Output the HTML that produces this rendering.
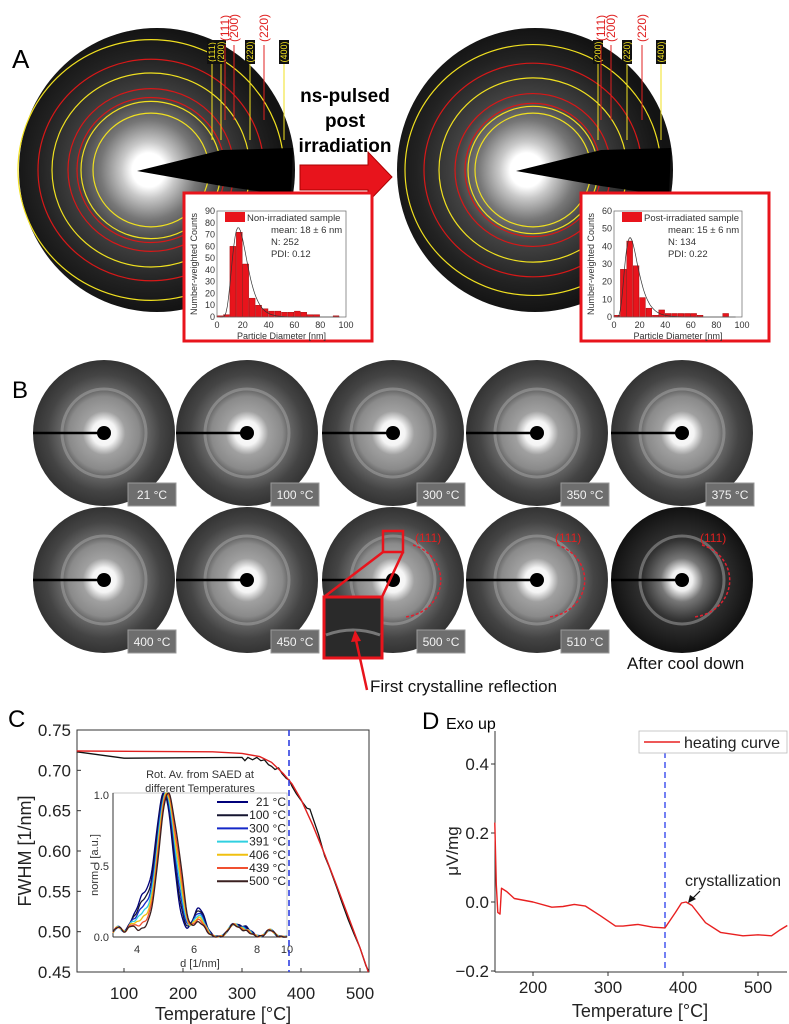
<!DOCTYPE html>
<html><head><meta charset="utf-8"><style>
html,body{margin:0;padding:0;background:#fff;}
svg{display:block;font-family:"Liberation Sans",sans-serif;}
</style></head><body>
<svg id="s" width="789" height="1024" viewBox="0 0 789 1024" xmlns="http://www.w3.org/2000/svg">
<defs>
<radialGradient id="gA" cx="0.47" cy="0.5" r="0.5">
<stop offset="0" stop-color="#fff"/><stop offset="0.12" stop-color="#fff"/><stop offset="0.2" stop-color="#c8c8c8"/><stop offset="0.35" stop-color="#777"/><stop offset="0.5" stop-color="#454545"/><stop offset="0.8" stop-color="#222"/><stop offset="1" stop-color="#131313"/>
</radialGradient>
<radialGradient id="gB" cx="0.5" cy="0.5" r="0.5">
<stop offset="0" stop-color="#fff"/><stop offset="0.17" stop-color="#f4f4f4"/><stop offset="0.3" stop-color="#a0a0a0"/><stop offset="0.5" stop-color="#8a8a8a"/><stop offset="0.58" stop-color="#6a6a6a"/><stop offset="0.8" stop-color="#444"/><stop offset="1" stop-color="#333"/>
</radialGradient>
<radialGradient id="gC" cx="0.5" cy="0.5" r="0.5">
<stop offset="0" stop-color="#fff"/><stop offset="0.15" stop-color="#eee"/><stop offset="0.3" stop-color="#777"/><stop offset="0.55" stop-color="#333"/><stop offset="1" stop-color="#111"/>
</radialGradient>
</defs>
<g id="root"></g>
</svg>
<script>
var R=document.getElementById('root'),o='';
function t(x,y,s,str,a,extra){o+='<text x="'+x+'" y="'+y+'" font-size="'+s+'" '+(a?'text-anchor="'+a+'" ':'')+(extra||'')+'>'+str+'</text>';}
// ===== Panel A =====
t(12,68,26,'A');
function discA(cx,cy,rx,ry,ccx,yr,rr,needleTip){
 o+='<ellipse cx="'+cx+'" cy="'+cy+'" rx="'+rx+'" ry="'+ry+'" fill="url(#gA)"/>';
 yr.forEach(function(r){o+='<ellipse cx="'+ccx+'" cy="170" rx="'+r+'" ry="'+(r*0.98)+'" fill="none" stroke="#f0e020" stroke-width="1.2"/>';});
 rr.forEach(function(r){o+='<ellipse cx="'+ccx+'" cy="170" rx="'+r+'" ry="'+(r*0.98)+'" fill="none" stroke="#d81818" stroke-width="1.2"/>';});
 o+='<path d="M'+needleTip+',171 L'+(needleTip+85)+',150 L'+(cx+rx-2)+',148 L'+(cx+rx-4)+',196 L'+(needleTip+85)+',186 Z" fill="#000"/>';
}
discA(157,170,138,142,151,[58,70,99,133],[74,83,113],137);
discA(535,170,138,142,533,[58,65,94,128],[68,78,109],516);
[[212,'#f0e020','(111)',1],[221,'#f0e020','(200)',1],[250,'#f0e020','(220)',1],[284,'#f0e020','(400)',1],[225,'#e02020','(111)',0],[234,'#e02020','(200)',0],[264,'#e02020','(220)',0],
 [598,'#f0e020','(200)',1],[627,'#f0e020','(220)',1],[661,'#f0e020','(400)',1],[601,'#e02020','(111)',0],[611,'#e02020','(200)',0],[642,'#e02020','(220)',0]].forEach(function(d){
 var x=d[0],y1=d[3]?63:45;
 o+='<line x1="'+x+'" y1="'+(y1)+'" x2="'+x+'" y2="'+(d[3]?140:120)+'" stroke="'+d[1]+'" stroke-width="1"/>';
 if(d[3]){o+='<rect x="'+(x-5)+'" y="40" width="10" height="24" fill="#111"/>';t(0,0,9,d[2],'middle','fill="#f0e020" transform="translate('+(x+3)+',52) rotate(-90)"');}
 else t(0,0,12,d[2],'middle','fill="#e02020" transform="translate('+(x+4)+',28) rotate(-90)"');
});
o+='<path d="M300,165 L368,165 L368,152 L392,177 L368,202 L368,190 L300,190 Z" fill="#e8141c" stroke="#a00" stroke-width="1"/>';
t(345,102,19,'ns-pulsed','middle','font-weight="bold"');t(345,127,19,'post','middle','font-weight="bold"');t(345,152,19,'irradiation','middle','font-weight="bold"');
function hist(bx,px1,px2,ymax,bars,ticks,leg,mean,N,pdi,fit){
 o+='<rect x="'+bx+'" y="193" width="188" height="148" fill="#fff" stroke="#e8141c" stroke-width="3"/>';
 var top=211,bot=317,w=px2-px1;
 function X(v){return px1+v/100*w;} function Y(v){return bot-v/ymax*(bot-top);}
 bars.forEach(function(b){o+='<rect x="'+X(b[0]-2.5)+'" y="'+Y(b[1])+'" width="'+(w/20-0.6)+'" height="'+(bot-Y(b[1]))+'" fill="#e8141c" stroke="#900" stroke-width="0.4"/>';});
 var p='';for(var d=2;d<=95;d+=1){var v=fit(d);p+=(p?'L':'M')+X(d).toFixed(1)+','+Y(v).toFixed(1);}o+='<path d="'+p+'" fill="none" stroke="#333" stroke-width="0.7"/>';
 o+='<rect x="'+px1+'" y="'+top+'" width="'+w+'" height="'+(bot-top)+'" fill="none" stroke="#666" stroke-width="0.7"/>';
 ticks.forEach(function(v){t(px1-2,Y(v)+3,9,v,'end','fill="#333"');});
 [0,20,40,60,80,100].forEach(function(v){t(X(v),328,9,v,'middle','fill="#333"');});
 t(px1+w/2,339,9,'Particle Diameter [nm]','middle','fill="#333"');
 t(0,0,9,'Number-weighted Counts','middle','fill="#333" transform="translate('+(bx+13)+',264) rotate(-90)"');
 o+='<rect x="'+(px1+8)+'" y="212" width="20" height="10" fill="#e8141c"/>';
 t(px1+30,221,9.5,leg,'start','fill="#333"');t(px1+54,233,9.5,mean,'start','fill="#333"');t(px1+54,245,9.5,N,'start','fill="#333"');t(px1+54,257,9.5,pdi,'start','fill="#333"');
}
function ln(mu,s,A){return function(d){return A*Math.exp(-Math.pow(Math.log(d/mu)/s,2)/2);};}
hist(184,217,346,90,[[2.5,1],[7.5,2],[12.5,60],[17.5,72],[22.5,45],[27.5,16],[32.5,10],[37.5,7],[42.5,5],[47.5,5],[52.5,4],[57.5,4],[62.5,5],[67.5,4],[72.5,2],[77.5,2],[92.5,1]],[0,10,20,30,40,50,60,70,80,90],'Non-irradiated sample','mean: 18 ± 6 nm','N: 252','PDI: 0.12',ln(16.5,0.35,76));
hist(581,614,742,60,[[2.5,1],[7.5,27],[12.5,43],[17.5,29],[22.5,11],[27.5,5],[32.5,1],[37.5,4],[42.5,2],[47.5,2],[52.5,2],[57.5,2],[62.5,2],[67.5,1],[87.5,2]],[0,10,20,30,40,50,60],'Post-irradiated sample','mean: 15 ± 6 nm','N: 134','PDI: 0.22',ln(12.5,0.42,45));
// ===== Panel B =====
t(12,398,24,'B');
var cxs=[104,247,393,537,682],labs=[['21 °C','100 °C','300 °C','350 °C','375 °C'],['400 °C','450 °C','500 °C','510 °C','']];
[433,580].forEach(function(cy,ri){cxs.forEach(function(cx,i){
 var g=(ri==1&&i==4)?'gC':'gB';
 o+='<ellipse cx="'+cx+'" cy="'+cy+'" rx="71" ry="73" fill="url(#'+g+')"/>';
 o+='<ellipse cx="'+cx+'" cy="'+cy+'" rx="42" ry="44" fill="none" stroke="#a8a8a8" stroke-opacity="0.5" stroke-width="3"/>';
 o+='<line x1="'+(cx-71)+'" y1="'+cy+'" x2="'+cx+'" y2="'+cy+'" stroke="#000" stroke-width="2.5"/>';
 o+='<circle cx="'+cx+'" cy="'+cy+'" r="7" fill="#000"/>';
 var L=labs[ri][i];if(L){var by=ri?630:483;o+='<rect x="'+(cx+24)+'" y="'+by+'" width="48" height="23" fill="#6e6e6e" stroke="#999" stroke-width="1"/>';t(cx+48,by+16,12,L,'middle','fill="#f2f2f2"');}
 if(ri==1&&i>=2){o+='<path d="M'+(cx+20)+','+(cy-35)+' A40,37 0 0 1 '+(cx+12)+','+(cy+37)+'" fill="none" stroke="#e02030" stroke-width="1.5" stroke-dasharray="3,2"/>';t(cx+22+(i==2?0:-4),cy-38,12,'(111)','start','fill="#e02020"');}
});});
o+='<rect x="383" y="531" width="20" height="21" fill="none" stroke="#e8141c" stroke-width="2.5"/>';
o+='<line x1="383" y1="552" x2="324" y2="597" stroke="#e8141c" stroke-width="2.5"/><line x1="403" y1="552" x2="382" y2="597" stroke="#e8141c" stroke-width="2.5"/>';
o+='<rect x="324" y="597" width="58" height="61" fill="#2a2a2a" stroke="#e8141c" stroke-width="3"/>';
o+='<path d="M326,635 Q353,625 380,635" stroke="#777" stroke-width="3" fill="none"/>';
o+='<line x1="367" y1="690" x2="356" y2="640" stroke="#e8141c" stroke-width="2.5"/><path d="M351,642 L355,630 L361,641Z" fill="#e8141c"/>';
t(370,692,17,'First crystalline reflection','start','fill="#111"');
t(627,669,17,'After cool down','start','fill="#111"');
// ===== Panel C =====
t(8,727,24,'C');
var L1=77,R1=369,T1=730,B1=972;
function cx_(T){return 124+(T-100)*0.59;} function cy_(v){return 730+(0.75-v)*806.7;}
o+='<rect x="'+L1+'" y="'+T1+'" width="'+(R1-L1)+'" height="'+(B1-T1)+'" fill="none" stroke="#333" stroke-width="1"/>';
[0.75,0.70,0.65,0.60,0.55,0.50,0.45].forEach(function(v){var y=cy_(v);t(71,y+6,17,v.toFixed(2),'end','fill="#222"');o+='<line x1="'+L1+'" y1="'+y+'" x2="'+(L1+4)+'" y2="'+y+'" stroke="#333"/>';});
[100,200,300,400,500].forEach(function(T){var x=cx_(T);t(x,999,17,T,'middle','fill="#222"');o+='<line x1="'+x+'" y1="'+B1+'" x2="'+x+'" y2="'+(B1-4)+'" stroke="#333"/>';});
t(223,1020,18,'Temperature [°C]','middle','fill="#222"');
t(0,0,18,'FWHM [1/nm]','middle','fill="#222" transform="translate(31,851) rotate(-90)"');
var bk=[[20,.723],[100,.715],[300,.716],[305,.712],[310,.716],[318,.713],[325,.716],[332,.712],[338,.713],[345,.707],[350,.705],[356,.701],[362,.703],[368,.696],[375,.69],[380,.688],[385,.68],[392,.671],[400,.663],[410,.653],[415,.652],[422,.637],[430,.62],[440,.594],[448,.58],[460,.556],[470,.535],[480,.515],[490,.497],[500,.48],[510,.458],[514,.452]];
var p='';bk.forEach(function(a){p+=(p?'L':'M')+cx_(a[0]).toFixed(1)+','+cy_(a[1]).toFixed(1);});o+='<path d="'+p+'" fill="none" stroke="#111" stroke-width="1.3"/>';
var rd=[[20,.724],[250,.723],[300,.721],[330,.717],[350,.71],[370,.696],[385,.683],[400,.664],[420,.632],[440,.596],[460,.558],[480,.519],[500,.48],[514,.45]];
p='';rd.forEach(function(a){p+=(p?'L':'M')+cx_(a[0]).toFixed(1)+','+cy_(a[1]).toFixed(1);});o+='<path d="'+p+'" fill="none" stroke="#e02020" stroke-width="1.4"/>';
var IL=113,IR=287,IT=793,IB=937;
o+='<rect x="'+IL+'" y="'+IT+'" width="'+(IR-IL)+'" height="'+(IB-IT)+'" fill="#fff" stroke="#bbb" stroke-width="0.8"/>';
o+='<line x1="'+IL+'" y1="'+IT+'" x2="'+IL+'" y2="'+IB+'" stroke="#333"/><line x1="'+IL+'" y1="'+IB+'" x2="'+IR+'" y2="'+IB+'" stroke="#333"/>';
t(200,778,11,'Rot. Av. from SAED at','middle','fill="#333"');t(200,792,11,'different Temperatures','middle','fill="#333"');
t(109,799,11,'1.0','end','fill="#333"');t(109,870,11,'0.5','end','fill="#333"');t(109,941,11,'0.0','end','fill="#333"');
function iy(v){return IB-v*(IB-IT);}
[[137,4],[194,6],[257,8],[287,10]].forEach(function(a){t(a[0],953,11,a[1],'middle','fill="#333"');});
t(200,967,11,'d [1/nm]','middle','fill="#333"');
t(0,0,11,'norm. I [a.u.]','middle','fill="#333" transform="translate(98,865) rotate(-90)"');
var cols=['#00007a','#151530','#1428c8','#30d0e0','#f0c010','#f05030','#3a2020'],lbl=['21 °C','100 °C','300 °C','391 °C','406 °C','439 °C','500 °C'];
function G(x,m,s){return Math.exp(-Math.pow((x-m)/s,2)/2);}
cols.forEach(function(c,k){var f=k/6;var mu=164+4*f,sh=0.2*(1-f)+0.04,sat=0.2-0.1*f;
 var pp='';for(var x=IL;x<=IR;x+=1){var v=G(x,mu,9)+sh*G(x,142,6)+0.07*G(x,131,4)+0.07*G(x,118,4)+sat*G(x,199,6)+0.08*G(x,233,5)+(0.07-0.03*f)*G(x,245,6)+0.05*G(x,270,4)+0.15*f*G(x,181,4)+0.005*Math.sin(x*0.9+k);
  if(v<0)v=0;if(v>1)v=1;pp+=(pp?'L':'M')+x+','+iy(v).toFixed(1);}
 o+='<path d="'+pp+'" fill="none" stroke="'+c+'" stroke-width="1.3"/>';
 var ly=802+k*13.2;o+='<line x1="217" y1="'+ly+'" x2="248" y2="'+ly+'" stroke="'+c+'" stroke-width="2"/>';t(286,ly+4,12,lbl[k],'end','fill="#222"');
});
o+='<line x1="289" y1="730" x2="289" y2="972" stroke="#3040e0" stroke-width="1.6" stroke-dasharray="6,4"/>';
// ===== Panel D =====
t(422,729,24,'D');t(446,729,16,'Exo up');
var L2=495,R2=787,T2=731,B2=972;
function dX(T){return 533+(T-200)*0.75;} function dY(v){return 902-v*345;}
o+='<line x1="'+L2+'" y1="'+T2+'" x2="'+L2+'" y2="'+B2+'" stroke="#333"/><line x1="'+L2+'" y1="'+B2+'" x2="'+R2+'" y2="'+B2+'" stroke="#333"/>';
[[0.4,'0.4'],[0.2,'0.2'],[0,'0.0'],[-0.2,'−0.2']].forEach(function(a){var y=dY(a[0]);t(489,y+6,17,a[1],'end','fill="#222"');o+='<line x1="'+(L2-4)+'" y1="'+y+'" x2="'+L2+'" y2="'+y+'" stroke="#333"/>';});
[200,300,400,500].forEach(function(T){var x=dX(T);t(x,993,17,T,'middle','fill="#222"');o+='<line x1="'+x+'" y1="'+B2+'" x2="'+x+'" y2="'+(B2+4)+'" stroke="#333"/>';});
t(640,1017,18,'Temperature [°C]','middle','fill="#222"');
t(0,0,17,'μV/mg','middle','fill="#222" transform="translate(458,851) rotate(-90)"');
o+='<line x1="665" y1="752" x2="665" y2="972" stroke="#5060f0" stroke-width="1.6" stroke-dasharray="6,4"/>';
var dd=[[149,.23],[151,.05],[153,-.03],[156,-.035],[158,.04],[165,.03],[175,.01],[200,0],[225,-.015],[240,-.013],[255,-.007],[270,-.012],[290,-.04],[310,-.07],[320,-.07],[340,-.065],[360,-.073],[376,-.075],[390,-.03],[398,-.003],[404,0],[412,-.01],[430,-.06],[450,-.088],[480,-.098],[500,-.095],[518,-.098],[530,-.08],[539,-.068]];
p='';dd.forEach(function(a){p+=(p?'L':'M')+dX(a[0]).toFixed(1)+','+dY(a[1]).toFixed(1);});o+='<path d="'+p+'" fill="none" stroke="#e82020" stroke-width="1.4" stroke-linejoin="round"/>';
o+='<rect x="639" y="731" width="148" height="22" fill="#fff" stroke="#bbb" stroke-width="0.8"/>';
o+='<line x1="644" y1="742" x2="680" y2="742" stroke="#e82020" stroke-width="1.5"/>';t(684,748,16,'heating curve','start','fill="#222"');
t(685,886,16,'crystallization','start','fill="#222"');
o+='<line x1="700" y1="891" x2="691" y2="900" stroke="#111" stroke-width="1.2"/><path d="M688,903 L690,895 L696,899Z" fill="#111"/>';
R.innerHTML=o;
</script>
</body></html>
